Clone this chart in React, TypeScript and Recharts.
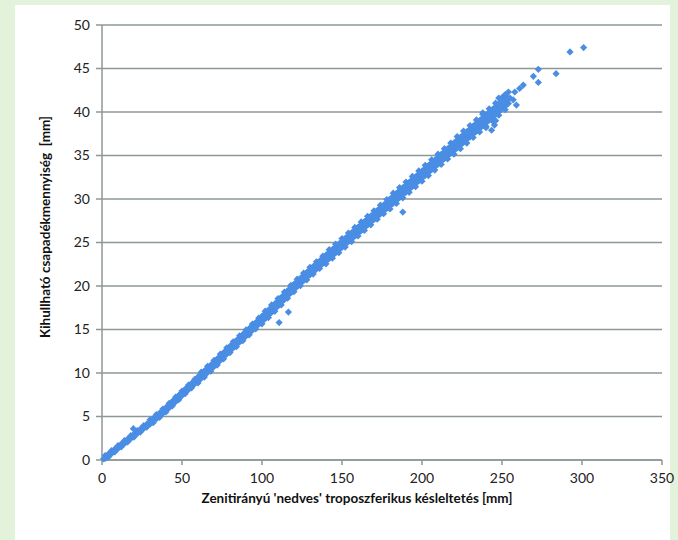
import { ScatterChart, Scatter, XAxis, YAxis, CartesianGrid } from 'recharts';

const xTicks = [0, 50, 100, 150, 200, 250, 300, 350];
const yTicks = [0, 5, 10, 15, 20, 25, 30, 35, 40, 45, 50];

type P = [number, number];

// middle of the band
const centerRow: P[] = [
  [1, 0.14], [3, 0.43], [5, 0.72], [7, 1.0], [9, 1.29], [11, 1.57], [13, 1.86], [15, 2.15], [17, 2.43], [19, 2.72],
  [21, 3.0], [23, 3.29], [25, 3.58], [27, 3.86], [29, 4.15], [31, 4.45], [33, 4.76], [35, 5.07], [37, 5.38], [39, 5.69],
  [41, 6.02], [43, 6.37], [45, 6.72], [47, 7.07], [49, 7.42], [51, 7.77], [53, 8.11], [55, 8.45], [57, 8.79], [59, 9.13],
  [61, 9.47], [63, 9.81], [65, 10.15], [67, 10.49], [69, 10.83], [71, 11.18], [73, 11.54], [75, 11.9], [77, 12.26], [79, 12.62],
  [81, 12.97], [83, 13.31], [85, 13.65], [87, 13.99], [89, 14.33], [91, 14.67], [93, 15.01], [95, 15.35], [97, 15.69], [99, 16.03],
  [101, 16.38], [103, 16.74], [105, 17.1], [107, 17.46], [109, 17.82], [111, 18.19], [113, 18.57], [115, 18.95], [117, 19.33], [119, 19.71],
  [121, 20.07], [123, 20.41], [125, 20.75], [127, 21.09], [129, 21.43], [131, 21.76], [133, 22.08], [135, 22.4], [137, 22.72], [139, 23.04],
  [141, 23.36], [143, 23.68], [145, 24.0], [147, 24.32], [149, 24.64], [151, 24.96], [153, 25.28], [155, 25.6], [157, 25.92], [159, 26.24],
  [161, 26.56], [163, 26.88], [165, 27.2], [167, 27.52], [169, 27.84], [171, 28.16], [173, 28.48], [175, 28.8], [177, 29.12], [179, 29.44],
  [181, 29.76], [183, 30.08], [185, 30.4], [187, 30.72], [189, 31.04], [191, 31.36], [193, 31.68], [195, 32.0], [197, 32.32], [199, 32.64],
  [201, 32.96], [203, 33.28], [205, 33.6], [207, 33.92], [209, 34.24], [211, 34.56], [213, 34.88], [215, 35.2], [217, 35.52], [219, 35.84],
  [221, 36.16], [223, 36.48], [225, 36.8], [227, 37.12], [229, 37.44], [231, 37.76], [233, 38.08], [235, 38.4], [237, 38.72], [239, 39.04],
  [241, 39.36], [243, 39.68], [245, 40.0], [247, 40.32], [249, 40.64], [251, 40.96], [253, 41.28], [255, 41.6],
];

// just above the middle
const midUpperRow: P[] = [
  [41, 6.18], [43, 6.53], [45, 6.88], [47, 7.23], [49, 7.58], [51, 7.93], [53, 8.27], [55, 8.61], [57, 8.95], [59, 9.29],
  [61, 9.7], [63, 10.04], [65, 10.38], [67, 10.72], [69, 11.06], [71, 11.41], [73, 11.77], [75, 12.13], [77, 12.49], [79, 12.85],
  [81, 13.2], [83, 13.54], [85, 13.88], [87, 14.22], [89, 14.56], [91, 14.9], [93, 15.24], [95, 15.58], [97, 15.92], [99, 16.26],
  [101, 16.66], [103, 17.02], [105, 17.38], [107, 17.74], [109, 18.1], [111, 18.47], [113, 18.85], [115, 19.23], [117, 19.61], [119, 19.99],
  [121, 20.35], [123, 20.69], [125, 21.03], [127, 21.37], [129, 21.71], [131, 22.04], [133, 22.36], [135, 22.68], [137, 23.0], [139, 23.32],
  [141, 23.69], [143, 24.01], [145, 24.33], [147, 24.65], [149, 24.97], [151, 25.29], [153, 25.61], [155, 25.93], [157, 26.25], [159, 26.57],
  [161, 26.89], [163, 27.21], [165, 27.53], [167, 27.85], [169, 28.17], [171, 28.49], [173, 28.81], [175, 29.13], [177, 29.45], [179, 29.77],
  [181, 30.14], [183, 30.46], [185, 30.78], [187, 31.1], [189, 31.42], [191, 31.74], [193, 32.06], [195, 32.38], [197, 32.7], [199, 33.02],
  [201, 33.34], [203, 33.66], [205, 33.98], [207, 34.3], [209, 34.62], [211, 34.94], [213, 35.26], [215, 35.58], [217, 35.9], [219, 36.22],
  [221, 36.59], [223, 36.91], [225, 37.23], [227, 37.55], [229, 37.87], [231, 38.19], [233, 38.51], [235, 38.83], [237, 39.15], [239, 39.47],
  [241, 39.79], [243, 40.11], [245, 40.43], [247, 40.75], [249, 41.07], [251, 41.39], [253, 41.71],
];

// just below the middle
const midLowerRow: P[] = [
  [41, 5.86], [43, 6.21], [45, 6.56], [47, 6.91], [49, 7.26], [51, 7.61], [53, 7.95], [55, 8.29], [57, 8.63], [59, 8.97],
  [61, 9.24], [63, 9.58], [65, 9.92], [67, 10.26], [69, 10.6], [71, 10.95], [73, 11.31], [75, 11.67], [77, 12.03], [79, 12.39],
  [81, 12.74], [83, 13.08], [85, 13.42], [87, 13.76], [89, 14.1], [91, 14.44], [93, 14.78], [95, 15.12], [97, 15.46], [99, 15.8],
  [101, 16.1], [103, 16.46], [105, 16.82], [107, 17.18], [109, 17.54], [111, 17.91], [113, 18.29], [115, 18.67], [117, 19.05], [119, 19.43],
  [121, 19.79], [123, 20.13], [125, 20.47], [127, 20.81], [129, 21.15], [131, 21.48], [133, 21.8], [135, 22.12], [137, 22.44], [139, 22.76],
  [141, 23.03], [143, 23.35], [145, 23.67], [147, 23.99], [149, 24.31], [151, 24.63], [153, 24.95], [155, 25.27], [157, 25.59], [159, 25.91],
  [161, 26.23], [163, 26.55], [165, 26.87], [167, 27.19], [169, 27.51], [171, 27.83], [173, 28.15], [175, 28.47], [177, 28.79], [179, 29.11],
  [181, 29.38], [183, 29.7], [185, 30.02], [187, 30.34], [189, 30.66], [191, 30.98], [193, 31.3], [195, 31.62], [197, 31.94], [199, 32.26],
  [201, 32.58], [203, 32.9], [205, 33.22], [207, 33.54], [209, 33.86], [211, 34.18], [213, 34.5], [215, 34.82], [217, 35.14], [219, 35.46],
  [221, 35.73], [223, 36.05], [225, 36.37], [227, 36.69], [229, 37.01], [231, 37.33], [233, 37.65], [235, 37.97], [237, 38.29], [239, 38.61],
  [241, 38.93], [243, 39.25], [245, 39.57], [247, 39.89], [249, 40.21], [251, 40.53], [253, 40.85],
];

// upper edge of the band
const upperRow: P[] = [
  [2, 0.51], [4, 0.69], [6, 1.08], [8, 1.26], [10, 1.65], [12, 1.84], [14, 2.22], [16, 2.41], [18, 2.8], [20, 2.98],
  [22, 3.37], [24, 3.55], [26, 3.94], [28, 4.12], [30, 4.62], [32, 4.78], [34, 5.23], [36, 5.4], [38, 5.85], [40, 6.03],
  [42, 6.52], [44, 6.73], [46, 7.22], [48, 7.43], [50, 7.92], [52, 8.12], [54, 8.6], [56, 8.8], [58, 9.28], [60, 9.55],
  [62, 10.09], [64, 10.23], [66, 10.77], [68, 10.91], [70, 11.45], [72, 11.61], [74, 12.17], [76, 12.33], [78, 12.89], [80, 13.05],
  [82, 13.59], [84, 13.73], [86, 14.27], [88, 14.41], [90, 14.95], [92, 15.09], [94, 15.63], [96, 15.77], [98, 16.31], [100, 16.5],
  [102, 17.11], [104, 17.22], [106, 17.83], [108, 17.94], [110, 18.55], [112, 18.68], [114, 19.31], [116, 19.44], [118, 20.07], [120, 20.2],
  [122, 20.79], [124, 20.88], [126, 21.47], [128, 21.56], [130, 22.15], [132, 22.22], [134, 22.79], [136, 22.86], [138, 23.43], [140, 23.55],
  [142, 24.17], [144, 24.19], [146, 24.81], [148, 24.83], [150, 25.45], [152, 25.47], [154, 26.09], [156, 26.11], [158, 26.73], [160, 26.75],
  [162, 27.37], [164, 27.39], [166, 28.01], [168, 28.03], [170, 28.65], [172, 28.67], [174, 29.29], [176, 29.31], [178, 29.93], [180, 30.0],
  [182, 30.67], [184, 30.64], [186, 31.31], [188, 31.28], [190, 31.95], [192, 31.92], [194, 32.59], [196, 32.56], [198, 33.23], [200, 33.2],
  [202, 33.87], [204, 33.84], [206, 34.51], [208, 34.48], [210, 35.15], [212, 35.12], [214, 35.79], [216, 35.76], [218, 36.43], [220, 36.45],
  [222, 37.17], [224, 37.09], [226, 37.81], [228, 37.73], [230, 38.45], [232, 38.37], [234, 39.09], [236, 39.01], [238, 39.73], [240, 39.65],
  [242, 40.37], [244, 40.29], [246, 41.01], [248, 40.93], [250, 41.65], [252, 41.57], [254, 42.29],
];

// lower edge of the band
const lowerRow: P[] = [
  [2, 0.17], [4, 0.35], [6, 0.74], [8, 0.92], [10, 1.31], [12, 1.5], [14, 1.88], [16, 2.07], [18, 2.46], [20, 2.64],
  [22, 3.03], [24, 3.21], [26, 3.6], [28, 3.78], [30, 4.12], [32, 4.28], [34, 4.73], [36, 4.9], [38, 5.35], [40, 5.53],
  [42, 6.02], [44, 6.23], [46, 6.72], [48, 6.93], [50, 7.42], [52, 7.62], [54, 8.1], [56, 8.3], [58, 8.78], [60, 8.85],
  [62, 9.39], [64, 9.53], [66, 10.07], [68, 10.21], [70, 10.75], [72, 10.91], [74, 11.47], [76, 11.63], [78, 12.19], [80, 12.35],
  [82, 12.89], [84, 13.03], [86, 13.57], [88, 13.71], [90, 14.25], [92, 14.39], [94, 14.93], [96, 15.07], [98, 15.61], [100, 15.65],
  [102, 16.26], [104, 16.37], [106, 16.98], [108, 17.09], [110, 17.7], [112, 17.83], [114, 18.46], [116, 18.59], [118, 19.22], [120, 19.35],
  [122, 19.94], [124, 20.03], [126, 20.62], [128, 20.71], [130, 21.3], [132, 21.37], [134, 21.94], [136, 22.01], [138, 22.58], [140, 22.55],
  [142, 23.17], [144, 23.19], [146, 23.81], [148, 23.83], [150, 24.45], [152, 24.47], [154, 25.09], [156, 25.11], [158, 25.73], [160, 25.75],
  [162, 26.37], [164, 26.39], [166, 27.01], [168, 27.03], [170, 27.65], [172, 27.67], [174, 28.29], [176, 28.31], [178, 28.93], [180, 28.85],
  [182, 29.52], [184, 29.49], [186, 30.16], [188, 30.13], [190, 30.8], [192, 30.77], [194, 31.44], [196, 31.41], [198, 32.08], [200, 32.05],
  [202, 32.72], [204, 32.69], [206, 33.36], [208, 33.33], [210, 34.0], [212, 33.97], [214, 34.64], [216, 34.61], [218, 35.28], [220, 35.15],
  [222, 35.87], [224, 35.79], [226, 36.51], [228, 36.43], [230, 37.15], [232, 37.07], [234, 37.79], [236, 37.71], [238, 38.43], [240, 38.35],
  [242, 39.07], [244, 38.99], [246, 39.71], [248, 39.63], [250, 40.35], [252, 40.27], [254, 40.99],
];

// scattered points off the band and at the top end
const outliers: P[] = [
  [19.6, 3.6], [110.7, 15.8], [116.5, 17.0], [188, 28.5], [238, 39.9], [240, 38.2], [243.5, 37.9], [245.3, 38.5],
  [246, 39.0], [248, 41.6], [251, 41.2], [252, 42.0], [257, 41.4], [258, 42.3], [259, 40.8], [261, 42.7],
  [263.3, 43.1], [269.6, 44.1], [272.7, 43.4], [272.7, 44.9], [283.8, 44.4], [292.5, 46.9], [301, 47.4],
];

const points = [...centerRow, ...midUpperRow, ...midLowerRow, ...upperRow, ...lowerRow, ...outliers].map(([x, y]) => ({ x, y }));

const gridColor = '#8c9893';
const font = 'Lato, "Open Sans", sans-serif';

const Diamond = (props: any) => {
  const { cx, cy } = props;
  const r = 3.6;
  return <path d={`M${cx},${cy - r}L${cx + r},${cy}L${cx},${cy + r}L${cx - r},${cy}Z`} fill="#4a8de4" />;
};

export default function App() {
  return (
    <div style={{ position: 'absolute', left: 0, top: 0, width: 678, height: 540, background: '#e3f3db', fontFamily: font }}>
      <div style={{ position: 'absolute', left: 15, top: 5, width: 655, height: 535, background: '#ffffff' }} />
      <ScatterChart
        width={678}
        height={540}
        margin={{ top: 25, right: 16, bottom: 0, left: 0 }}
        style={{ position: 'absolute', left: 0, top: 0 }}
      >
        <CartesianGrid vertical={false} stroke={gridColor} strokeWidth={1.5} />
        <XAxis
          type="number"
          dataKey="x"
          domain={[0, 350]}
          ticks={xTicks}
          height={80}
          stroke={gridColor}
          strokeWidth={1.5}
          tickSize={5}
          tickMargin={8}
          tick={{ fill: '#222', fontSize: 14, fontFamily: font }}
          label={(p: any) => (
            <text x={357} y={503} textAnchor="middle" fontFamily={font} fontSize={13.5} fontWeight="bold" fill="#111">
              Zenitirányú 'nedves' troposzferikus késleltetés [mm]
            </text>
          )}
        />
        <YAxis
          type="number"
          dataKey="y"
          domain={[0, 50]}
          ticks={yTicks}
          width={102}
          stroke={gridColor}
          strokeWidth={1.5}
          tickSize={6}
          tickMargin={6}
          tick={{ fill: '#222', fontSize: 14, fontFamily: font }}
          label={(p: any) => (
            <text
              x={45}
              y={227}
              transform="rotate(-90 45 227)"
              textAnchor="middle"
              dominantBaseline="central"
              fontFamily={font}
              fontSize={13.5}
              fontWeight="bold"
              fill="#111"
              style={{ whiteSpace: 'pre' }}
            >
              {'Kihullható csapadékmennyiség  [mm]'}
            </text>
          )}
        />
        <Scatter data={points} shape={Diamond} isAnimationActive={false} />
      </ScatterChart>
    </div>
  );
}
